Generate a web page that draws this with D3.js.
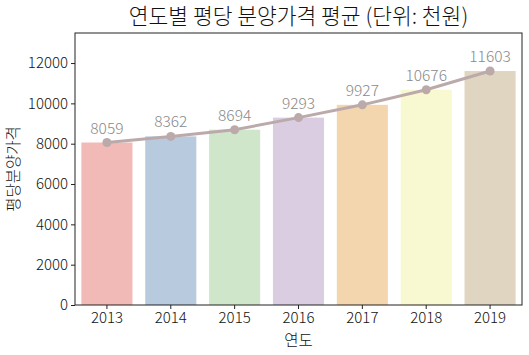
<!DOCTYPE html>
<html><head><meta charset="utf-8">
<script src="https://cdn.jsdelivr.net/npm/d3@7"></script>
<style>body{margin:0;background:#fff}svg{display:block}text{font-family:"Noto Sans CJK KR","Noto Sans",sans-serif}</style>
</head><body><svg id="c" width="529" height="355"></svg>
<script>
const years = ["2013","2014","2015","2016","2017","2018","2019"];
const values = [8059, 8362, 8694, 9293, 9927, 10676, 11603];
const barColors = ["#f1bab6","#b8cade","#d0e6cb","#dacde2","#f3d6ad","#f8f8d1","#e0d5c0"];
const yTicks = [0,2000,4000,6000,8000,10000,12000];

const svg = d3.select("#c");
const m = {l:75, r:7, t:33, b:50};
const W = 529, H = 355;
const x = d3.scaleBand().domain(years).range([m.l, W-m.r]).paddingInner(0.2).paddingOuter(0.1);
const y = d3.scaleLinear().domain([0, 13490]).range([H-m.b, m.t]);
const FF = '"Noto Sans CJK KR","Noto Sans",sans-serif';

svg.selectAll("rect.bar").data(values).join("rect").attr("class","bar")
  .attr("x",(d,i)=>x(years[i])).attr("y",d=>y(d))
  .attr("width",x.bandwidth()).attr("height",d=>y(0)-y(d))
  .attr("fill",(d,i)=>barColors[i]);

const cx = i => x(years[i]) + x.bandwidth()/2;
const line = d3.line().x((d,i)=>cx(i)).y(d=>y(d));
svg.append("path").datum(values).attr("d",line).attr("fill","none")
  .attr("stroke","#bcaaab").attr("stroke-width",3);
svg.selectAll("circle.pt").data(values).join("circle").attr("class","pt")
  .attr("cx",(d,i)=>cx(i)).attr("cy",d=>y(d)).attr("r",4.5).attr("fill","#bcaaab");
svg.selectAll("text.lbl").data(values).join("text").attr("class","lbl")
  .attr("x",(d,i)=>cx(i)).attr("y",d=>y(d)-9).attr("text-anchor","middle")
  .attr("font-size",15.5).attr("fill","#8a8a8a").attr("font-weight",300).text(d=>d);

// axes
const ya = d3.axisLeft(y).tickValues(yTicks).tickSize(4).tickPadding(3).tickFormat(d3.format("d"));
const gy = svg.append("g").attr("transform",`translate(${m.l},0)`).call(ya);
const xa = d3.axisBottom(x).tickSize(4).tickPadding(3);
const gx = svg.append("g").attr("transform",`translate(0,${H-m.b})`).call(xa);
[gx,gy].forEach(g=>{g.select(".domain").remove();g.selectAll("text").attr("font-size",15).attr("fill","#111").attr("font-weight",300).style("font-family",FF);g.selectAll("line").attr("stroke","#222");});
svg.append("rect").attr("x",m.l).attr("y",m.t).attr("width",W-m.r-m.l).attr("height",H-m.b-m.t)
  .attr("fill","none").attr("stroke","#222").attr("stroke-width",1);

svg.append("text").attr("x",(m.l+W-m.r)/2).attr("y",24).attr("text-anchor","middle")
  .attr("font-size",21.5).attr("fill","#111").attr("font-weight",300).text("연도별 평당 분양가격 평균 (단위: 천원)");
svg.append("text").attr("x",(m.l+W-m.r)/2).attr("y",346).attr("text-anchor","middle")
  .attr("font-size",15.5).attr("fill","#111").attr("font-weight",300).text("연도");
svg.append("text").attr("transform",`translate(19,${(m.t+H-m.b)/2}) rotate(-90)`).attr("text-anchor","middle")
  .attr("font-size",15.5).attr("fill","#111").attr("font-weight",300).text("평당분양가격");
</script></body></html>
